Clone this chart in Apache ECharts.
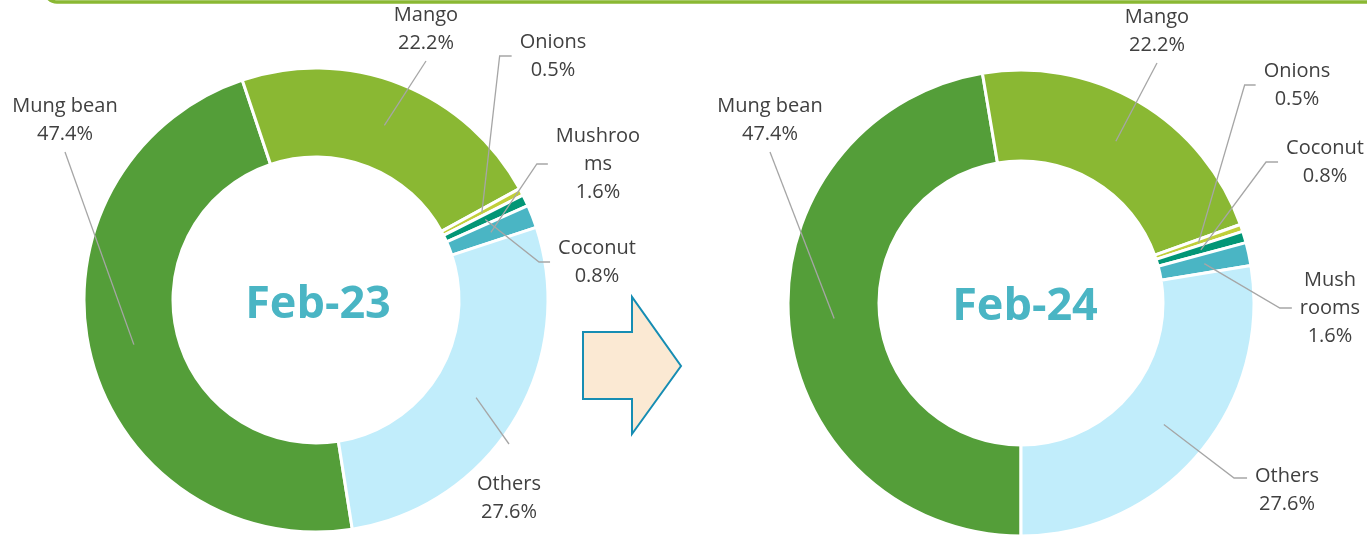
<!DOCTYPE html>
<html>
<head>
<meta charset="utf-8">
<script src="https://cdn.jsdelivr.net/npm/echarts@6/dist/echarts.min.js"></script>
<style>
  html, body { margin: 0; padding: 0; background: #ffffff; }
  #chart { width: 1367px; height: 535px; }
</style>
</head>
<body>
<div id="chart"></div>
<script>
// ---- data ----
const categories = ['Mung bean', 'Mango', 'Onions', 'Coconut', 'Mushrooms', 'Others'];
const feb23Values = [47.4, 22.2, 0.5, 0.8, 1.6, 27.6];
const feb24Values = [47.4, 22.2, 0.5, 0.8, 1.6, 27.6];
const feb23LabelNames = ['Mung bean', 'Mango', 'Onions', 'Coconut', 'Mushroo\nms', 'Others'];
const feb24LabelNames = ['Mung bean', 'Mango', 'Onions', 'Coconut', 'Mush\nrooms', 'Others'];
const periodTitles = ['Feb-23', 'Feb-24'];

// ---- styles / layout ----
const sliceColors = ['#549E39', '#8AB833', '#C0CF3A', '#029676', '#4AB5C4', '#C1EDFB'];
const titleColor = '#4AB5C4';
const labelColor = '#404040';
const leaderColor = '#A6A6A6';

const pieLayouts = [
  {
    center: [316, 300], radius: [143, 232], startAngle: -81,
    labels: [
      { pos: [65, 120], side: 'bottom', tick: 0 },
      { pos: [426, 29], side: 'bottom', tick: 0 },
      { pos: [553, 56], side: 'left', tick: 12 },
      { pos: [597, 262], side: 'left', tick: 11 },
      { pos: [598, 164], side: 'left', tick: 11 },
      { pos: [509, 498], side: 'top', tick: 0, gap: 22 }
    ]
  },
  {
    center: [1021, 303], radius: [142, 233], startAngle: -90,
    labels: [
      { pos: [770, 120], side: 'bottom', tick: 0 },
      { pos: [1157, 31], side: 'bottom', tick: 0 },
      { pos: [1297, 85], side: 'left', tick: 11 },
      { pos: [1325, 162], side: 'left', tick: 12 },
      { pos: [1330, 308], side: 'left', tick: 12 },
      { pos: [1287, 490], side: 'left', tick: 13, dy: -12 }
    ]
  }
];

function makeLabelLayout(p) {
  return function (params) {
    const cfg = p.labels[params.dataIndex];
    const w = params.labelRect.width, h = params.labelRect.height;
    const x = cfg.pos[0], y = cfg.pos[1];
    const gap = cfg.gap || 0, dy = cfg.dy || 0;
    let end, elbow;
    if (cfg.side === 'bottom') { end = [x, y + h / 2 + gap]; elbow = [x, end[1] + cfg.tick]; }
    else if (cfg.side === 'top') { end = [x, y - h / 2 - gap]; elbow = [x, end[1] - cfg.tick]; }
    else if (cfg.side === 'left') { end = [x - w / 2 - gap, y + dy]; elbow = [end[0] - cfg.tick, end[1]]; }
    else { end = [x + w / 2 + gap, y + dy]; elbow = [end[0] + cfg.tick, end[1]]; }
    const out = { x: x, y: y, align: 'center', verticalAlign: 'middle' };
    const pts = params.labelLinePoints;
    if (pts && pts.length) {
      // anchor = library's point at the mid angle of the (mid-ring) helper slice
      out.labelLinePoints = [[pts[0][0], pts[0][1]], elbow, end];
    }
    return out;
  };
}

// visible donut
function buildRing(values, p) {
  return {
    type: 'pie',
    center: p.center,
    radius: p.radius,
    startAngle: p.startAngle,
    clockwise: true,
    silent: true,
    animation: false,
    z: 2,
    itemStyle: { borderColor: '#ffffff', borderWidth: 3 },
    label: { show: false },
    labelLine: { show: false },
    data: categories.map(function (c, i) {
      return { name: c, value: values[i], itemStyle: { color: sliceColors[i] } };
    })
  };
}

// invisible companion pie carrying the labels, its edge at the middle of the ring
function buildLabels(values, labelNames, p) {
  return {
    type: 'pie',
    center: p.center,
    radius: [0, (p.radius[0] + p.radius[1]) / 2],
    startAngle: p.startAngle,
    clockwise: true,
    avoidLabelOverlap: false,
    silent: true,
    animation: false,
    z: 3,
    itemStyle: { color: 'rgba(0,0,0,0)', borderWidth: 0 },
    label: {
      show: true,
      position: 'outside',
      alignTo: 'none',
      color: labelColor,
      fontFamily: 'Open Sans',
      fontSize: 20,
      lineHeight: 28,
      padding: [4, 8],
      formatter: function (prm) {
        return labelNames[prm.dataIndex] + '\n' + prm.value.toFixed(1) + '%';
      }
    },
    labelLine: {
      show: true, length: 10, length2: 0,
      lineStyle: { color: leaderColor, width: 1.3 }
    },
    labelLayout: makeLabelLayout(p),
    data: categories.map(function (c, i) {
      return { name: c, value: values[i] };
    })
  };
}

const chart = echarts.init(document.getElementById('chart'), null, { renderer: 'canvas' });
chart.setOption({
  backgroundColor: '#ffffff',
  animation: false,
  series: [
    buildRing(feb23Values, pieLayouts[0]),
    buildRing(feb24Values, pieLayouts[1]),
    buildLabels(feb23Values, feb23LabelNames, pieLayouts[0]),
    buildLabels(feb24Values, feb24LabelNames, pieLayouts[1])
  ],
  graphic: [
    {
      type: 'rect',
      shape: { x: 45, y: -40, width: 1400, height: 42, r: 12 },
      style: { fill: 'none', stroke: '#8AB833', lineWidth: 3.5 }
    },
    {
      type: 'polygon',
      shape: { points: [[583, 332], [632, 332], [632, 297], [681, 366], [632, 434], [632, 399], [583, 399]] },
      style: { fill: '#FBE9D3', stroke: '#168DB3', lineWidth: 2 }
    },
    {
      type: 'text',
      x: pieLayouts[0].center[0] + 2, y: pieLayouts[0].center[1] + 5,
      style: {
        text: periodTitles[0], fill: titleColor, fontFamily: 'Open Sans', fontWeight: 'bold',
        fontSize: 45, align: 'center', verticalAlign: 'middle'
      }
    },
    {
      type: 'text',
      x: pieLayouts[1].center[0] + 4, y: pieLayouts[1].center[1] + 4,
      style: {
        text: periodTitles[1], fill: titleColor, fontFamily: 'Open Sans', fontWeight: 'bold',
        fontSize: 45, align: 'center', verticalAlign: 'middle'
      }
    }
  ]
});
</script>
</body>
</html>
